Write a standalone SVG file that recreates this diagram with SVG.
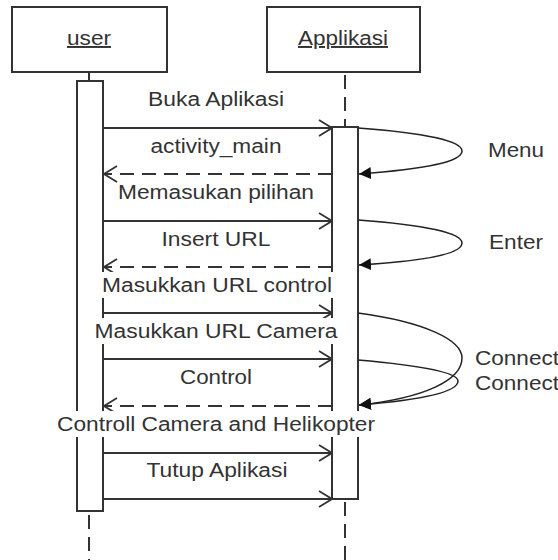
<svg xmlns="http://www.w3.org/2000/svg" width="558" height="560" viewBox="0 0 558 560">
<style>
.box{fill:#fff;stroke:#333;stroke-width:2}
.bar{fill:#fff;stroke:#333;stroke-width:2}
.life{stroke:#333;stroke-width:2;stroke-dasharray:14 8;fill:none}
.msg{stroke:#333;stroke-width:1.8;fill:none}
.ret{stroke:#333;stroke-width:1.8;fill:none;stroke-dasharray:14 8}
.self{stroke:#222;stroke-width:1.5;fill:none}
text{font-family:"Liberation Sans",Arial,sans-serif;font-size:19.5px;fill:#333}
.c{text-anchor:middle}
.bg{fill:#fff}
</style>
<defs>
<marker id="open" markerUnits="userSpaceOnUse" viewBox="0 0 15 18" refX="14" refY="9" markerWidth="15" markerHeight="18" orient="auto">
<path d="M1,1 L14,9 L1,17" fill="none" stroke="#333" stroke-width="1.8"/>
</marker>
<marker id="filled" markerUnits="userSpaceOnUse" viewBox="0 0 13 12" refX="12" refY="6" markerWidth="13" markerHeight="12" orient="auto">
<path d="M0,0 L12,6 L0,12 Z" fill="#111"/>
</marker>
</defs>

<g id="user">
<rect class="box" x="12" y="7" width="155" height="65"/>
<text class="c" x="89" y="45" textLength="44" lengthAdjust="spacingAndGlyphs" text-decoration="underline">user</text>
<line x1="89" y1="72" x2="89" y2="81" stroke="#333" stroke-width="2"/>
<rect class="bar" x="77" y="81" width="26" height="430"/>
<line class="life" x1="89" y1="515" x2="89" y2="560"/>
</g>

<g id="applikasi">
<rect class="box" x="267" y="7" width="153" height="65"/>
<text class="c" x="343" y="45" textLength="90" lengthAdjust="spacingAndGlyphs" text-decoration="underline">Applikasi</text>
<line class="life" x1="345" y1="75" x2="345" y2="127"/>
<rect class="bar" x="332" y="127" width="26" height="372"/>
<line class="life" x1="345" y1="502" x2="345" y2="560"/>
</g>

<g id="connectors">
<g id="m1">
<line class="msg" x1="103" y1="128" x2="332" y2="128" marker-end="url(#open)"/>
<text class="c" x="216" y="106" textLength="136" lengthAdjust="spacingAndGlyphs">Buka Aplikasi</text>
</g>
<g id="m2">
<line class="ret" x1="332" y1="174" x2="104" y2="174" marker-end="url(#open)"/>
<text class="c" x="216" y="153" textLength="131" lengthAdjust="spacingAndGlyphs">activity_main</text>
</g>
<g id="m3">
<line class="msg" x1="103" y1="221" x2="332" y2="221" marker-end="url(#open)"/>
<text class="c" x="216" y="199" textLength="196" lengthAdjust="spacingAndGlyphs">Memasukan pilihan</text>
</g>
<g id="m4">
<line class="ret" x1="332" y1="267" x2="104" y2="267" marker-end="url(#open)"/>
<text class="c" x="216" y="246" textLength="109" lengthAdjust="spacingAndGlyphs">Insert URL</text>
</g>
<g id="m5">
<line class="msg" x1="103" y1="313" x2="332" y2="313" marker-end="url(#open)"/>
<rect class="bg" x="100" y="272" width="235" height="26"/>
<text class="c" x="217" y="292" textLength="230" lengthAdjust="spacingAndGlyphs">Masukkan URL control</text>
</g>
<g id="m6">
<line class="msg" x1="103" y1="359" x2="332" y2="359" marker-end="url(#open)"/>
<rect class="bg" x="92" y="318" width="248" height="26"/>
<text class="c" x="216" y="338" textLength="243" lengthAdjust="spacingAndGlyphs">Masukkan URL Camera</text>
</g>
<g id="m7">
<line class="ret" x1="332" y1="406" x2="104" y2="406" marker-end="url(#open)"/>
<text class="c" x="216" y="384" textLength="72" lengthAdjust="spacingAndGlyphs">Control</text>
</g>
<g id="m8">
<line class="msg" x1="103" y1="453" x2="332" y2="453" marker-end="url(#open)"/>
<rect class="bg" x="55" y="411" width="322" height="26"/>
<text class="c" x="216" y="431" textLength="318" lengthAdjust="spacingAndGlyphs">Controll Camera and Helikopter</text>
</g>
<g id="m9">
<line class="msg" x1="103" y1="499" x2="332" y2="499" marker-end="url(#open)"/>
<text class="c" x="217" y="477" textLength="141" lengthAdjust="spacingAndGlyphs">Tutup Aplikasi</text>
</g>
<g id="s1">
<path class="self" d="M358,128 C425,133 462,141 462,151 C462,162 425,169 359,174" marker-end="url(#filled)"/>
<text x="488" y="157" textLength="56" lengthAdjust="spacingAndGlyphs">Menu</text>
</g>
<g id="s2">
<path class="self" d="M358,220 C425,225 462,233 462,243 C462,254 425,261 359,265" marker-end="url(#filled)"/>
<text x="489" y="249" textLength="54" lengthAdjust="spacingAndGlyphs">Enter</text>
</g>
<g id="s3">
<path class="self" d="M358,313 C425,322 462,340 462,358 C462,380 425,398 359,405" marker-end="url(#filled)"/>
<text x="475" y="365" textLength="84" lengthAdjust="spacingAndGlyphs">Connect</text>
</g>
<g id="s4">
<path class="self" d="M358,360 C415,365 458,372 458,381 C458,392 420,400 359,405" marker-end="url(#filled)"/>
<text x="475" y="390" textLength="84" lengthAdjust="spacingAndGlyphs">Connect</text>
</g>
</g>
</svg>
